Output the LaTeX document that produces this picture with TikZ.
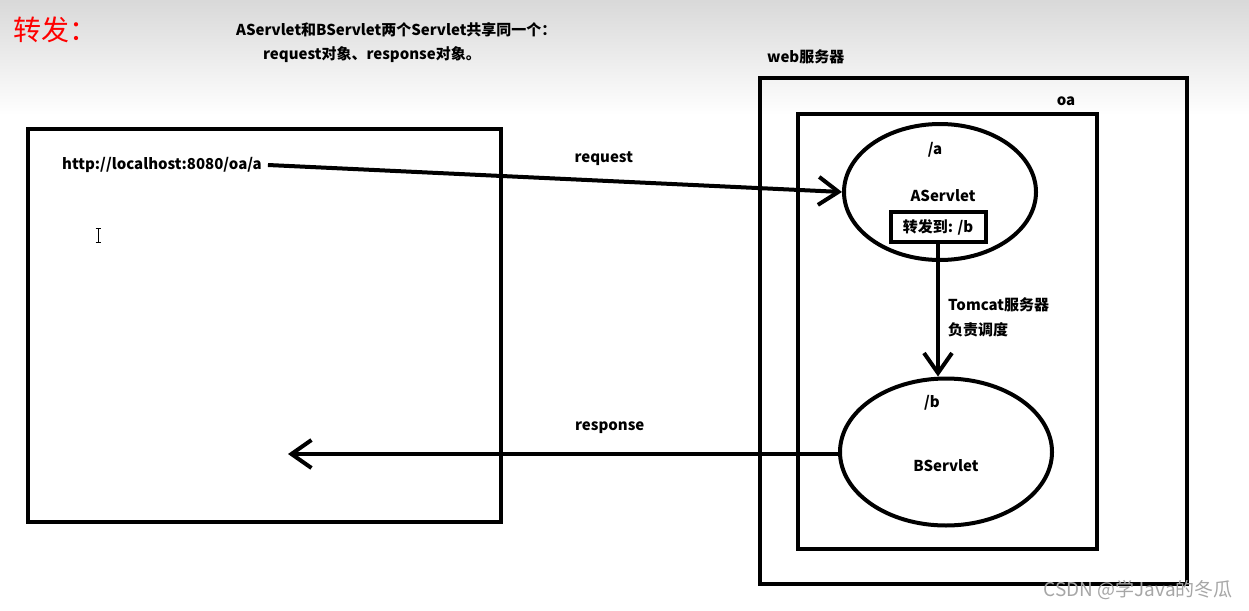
\documentclass[tikz,border=0pt]{standalone}
\usepackage{fontspec}
\setmainfont{Noto Sans CJK SC}
\usetikzlibrary{shapes.geometric,arrows.meta}

\begin{document}
\begin{tikzpicture}[x=1pt,y=-1pt,
	frame/.style={line width=4.5pt},
	servlet/.style={draw,ellipse,line width=4pt,inner sep=0pt},
	lbl/.style={font=\bfseries\fontsize{15}{17}\selectfont,inner sep=0pt},
	flow/.style={line width=4pt,-{Straight Barb[length=20pt,width=28pt,line width=4pt]}}]
	\useasboundingbox (0,0) rectangle (1249,610);
	\shade[top color=black!15,bottom color=white] (0,0) rectangle (1249,115);
	% title and note
	\node[red,anchor=west,inner sep=0pt,font=\fontsize{28}{30}\selectfont] (title) at (13,30) {转发：};
	\node[lbl,anchor=west] (note1) at (236,30) {AServlet和BServlet两个Servlet共享同一个：};
	\node[lbl,anchor=west] (note2) at (263,55) {request对象、response对象。};
	% browser
	\draw[frame] (28,129) rectangle (501,522);
	\node[lbl,anchor=west] (url) at (62,165) {http://localhost:8080/oa/a};
	\draw[thin] (98,228) -- (98,242) (95.5,228) -- (100.5,228) (95.5,242) -- (100.5,242); %cursor
	\coordinate (resp) at (288,454);
	% web server
	\node[lbl,anchor=west] (web) at (767,57) {web服务器};
	\draw[frame] (760,78) rectangle (1187,584);
	\node[lbl] (oa) at (1066,101) {oa};
	\draw[frame] (798,114) rectangle (1097,549);
	\node[servlet,minimum width=192pt,minimum height=136pt] (sa) at (940,192) {};
	\node[lbl] (pa) at (935,150) {/a};
	\node[lbl] (na) at (943,196) {AServlet};
	\node[draw,line width=4pt,font=\bfseries\fontsize{15}{17}\selectfont,minimum width=95pt,minimum height=30pt,inner sep=0pt] (fwd) at (938,227) {转发到: /b};
	\node[servlet,minimum width=212pt,minimum height=147pt] (sb) at (946,452) {};
	\node[lbl] (pb) at (932,403) {/b};
	\node[lbl] (nb) at (946,466) {BServlet};
	% connectors
	\draw[flow] ([xshift=6pt]url.east) -- (sa.west) node[lbl,pos=0.585,above=13pt] (req) {request};
	\draw[flow] (fwd.south) -- (fwd.south |- sb.north);
	\node[lbl,anchor=west] (tc1) at (948,305) {Tomcat服务器};
	\node[lbl,anchor=west] (tc2) at (948,330) {负责调度};
	\draw[flow] (resp -| sb.west) -- (resp) node[lbl,pos=0.415,above=18pt] (rsp) {response};
	% watermark
	\node[black!35,anchor=east,inner sep=0pt,font=\fontsize{19}{21}\selectfont] (mark) at (1233,590) {CSDN @学Java的冬瓜};
\end{tikzpicture}
\end{document}
